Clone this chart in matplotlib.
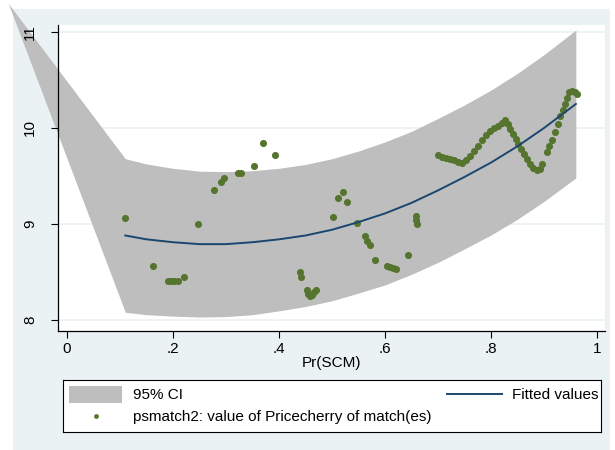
import matplotlib
matplotlib.use("Agg")
import matplotlib.pyplot as plt
from matplotlib.patches import Rectangle

plt.rcParams['font.family'] = ['Liberation Sans', 'DejaVu Sans']

# propensity score vs matched outcome
ps_x = [0.109, 0.162, 0.191, 0.196, 0.202, 0.209, 0.221, 0.247, 0.277, 0.290,
        0.296, 0.323, 0.328, 0.352, 0.369, 0.392,
        0.440, 0.442, 0.452, 0.455, 0.458, 0.462, 0.466, 0.470,
        0.502, 0.511, 0.520, 0.528, 0.547, 0.562, 0.566, 0.572, 0.581,
        0.604, 0.609, 0.615, 0.621, 0.643, 0.658, 0.659, 0.660,
        0.700, 0.708, 0.715, 0.723, 0.730, 0.738, 0.745, 0.753, 0.760, 0.768,
        0.775, 0.783, 0.791, 0.798, 0.806, 0.813, 0.821, 0.826, 0.832, 0.836,
        0.842, 0.847, 0.851, 0.857, 0.862, 0.868, 0.874, 0.879, 0.887, 0.892,
        0.896, 0.906, 0.909, 0.915, 0.921, 0.926, 0.930, 0.936, 0.940, 0.943,
        0.947, 0.953, 0.958, 0.962]
price_match = [9.06, 8.56, 8.41, 8.41, 8.41, 8.41, 8.45, 9.00, 9.35, 9.44,
               9.48, 9.53, 9.53, 9.60, 9.84, 9.72,
               8.50, 8.45, 8.31, 8.27, 8.25, 8.26, 8.29, 8.31,
               9.07, 9.27, 9.33, 9.23, 9.01, 8.87, 8.82, 8.78, 8.62,
               8.56, 8.55, 8.54, 8.53, 8.68, 9.08, 9.04, 9.00,
               9.72, 9.70, 9.69, 9.68, 9.67, 9.65, 9.64, 9.67, 9.71, 9.76,
               9.81, 9.87, 9.93, 9.97, 10.00, 10.02, 10.05, 10.08, 10.04, 9.99,
               9.94, 9.89, 9.83, 9.78, 9.73, 9.68, 9.63, 9.58, 9.56, 9.57,
               9.62, 9.75, 9.81, 9.88, 9.96, 10.04, 10.12, 10.19, 10.25, 10.31,
               10.37, 10.39, 10.38, 10.35]

# quadratic fit
fit_x = [0.11, 0.15, 0.20, 0.25, 0.30, 0.35, 0.40, 0.45, 0.50, 0.55,
         0.60, 0.65, 0.70, 0.75, 0.80, 0.85, 0.90, 0.96]
fit_y = [8.88, 8.84, 8.81, 8.79, 8.79, 8.81, 8.84, 8.88, 8.94, 9.02,
         9.11, 9.22, 9.35, 9.49, 9.64, 9.81, 10.00, 10.25]

# 95% CI band (first point is where the band closes off on the left)
ci_x = [-0.111, 0.11, 0.15, 0.20, 0.25, 0.30, 0.35, 0.40, 0.45, 0.50, 0.55,
        0.60, 0.65, 0.70, 0.75, 0.80, 0.85, 0.90, 0.96]
ci_lo = [11.30, 8.08, 8.055, 8.04, 8.03, 8.035, 8.055, 8.095, 8.14, 8.20, 8.28,
         8.365, 8.475, 8.60, 8.74, 8.885, 9.05, 9.235, 9.48]
ci_hi = [11.30, 9.68, 9.625, 9.58, 9.55, 9.545, 9.555, 9.58, 9.62, 9.68, 9.76,
         9.855, 9.965, 10.10, 10.24, 10.395, 10.57, 10.765, 11.02]

xticks = [0, 0.2, 0.4, 0.6, 0.8, 1]
xticklabels = ['0', '.2', '.4', '.6', '.8', '1']
yticks = [8, 9, 10, 11]

W, H = 615, 450
bg = '#EAF2F3'
navy = '#1A476F'
green = '#55752F'
band = '#BEBEBE'

fig = plt.figure(figsize=(W / 100, H / 100), dpi=100)
fig.patch.set_facecolor('white')
fig.patches.append(Rectangle((13 / W, 0), (610 - 13) / W, 1 - 9 / H,
                             transform=fig.transFigure, facecolor=bg,
                             edgecolor='none', zorder=-10))

ax = fig.add_axes([58 / W, 1 - 331 / H, (605 - 58) / W, (331 - 25) / H])
ax.set_facecolor('white')

for yv in yticks:
    ax.axhline(yv, color=bg, lw=1.2, zorder=0)

poly = ax.fill_between(ci_x, ci_lo, ci_hi, color=band, lw=0, zorder=1)
poly.set_clip_on(False)
ax.plot(fit_x, fit_y, color=navy, lw=1.4, zorder=3)
ax.scatter(ps_x, price_match, s=26, color=green, lw=0, zorder=2)

ax.set_xlim(-0.017, 1.015)
ax.set_ylim(7.885, 11.073)
ax.set_xticks(xticks)
ax.set_xticklabels(xticklabels)
ax.set_yticks(yticks)
ax.set_yticklabels([str(v) for v in yticks], rotation=90, va='center')
ax.tick_params(axis='both', length=5, width=0.8, labelsize=11)
ax.tick_params(axis='x', pad=3)
ax.tick_params(axis='y', pad=10)
ax.set_xlabel('Pr(SCM)', fontsize=11, labelpad=0)
for s in ['top', 'right']:
    ax.spines[s].set_visible(False)
for s in ['left', 'bottom']:
    ax.spines[s].set_linewidth(0.9)

# legend box, drawn in pixel units
lax = fig.add_axes([63 / W, 1 - 432 / H, (601 - 63) / W, (432 - 380) / H])
lax.set_xlim(63, 601)
lax.set_ylim(432, 380)
lax.set_xticks([])
lax.set_yticks([])
for s in lax.spines.values():
    s.set_linewidth(0.8)
lax.add_patch(Rectangle((69, 386), 53, 17, facecolor=band, edgecolor='none'))
lax.text(133, 395, '95% CI', fontsize=11, va='center')
lax.plot([447, 502], [394, 394], color=navy, lw=1.4)
lax.text(598, 395, 'Fitted values', fontsize=11, va='center', ha='right')
lax.scatter([96], [416], s=12, color=green, lw=0)
lax.text(133, 417, 'psmatch2: value of Pricecherry of match(es)', fontsize=11, va='center')

fig.savefig('out.png', dpi=100)
